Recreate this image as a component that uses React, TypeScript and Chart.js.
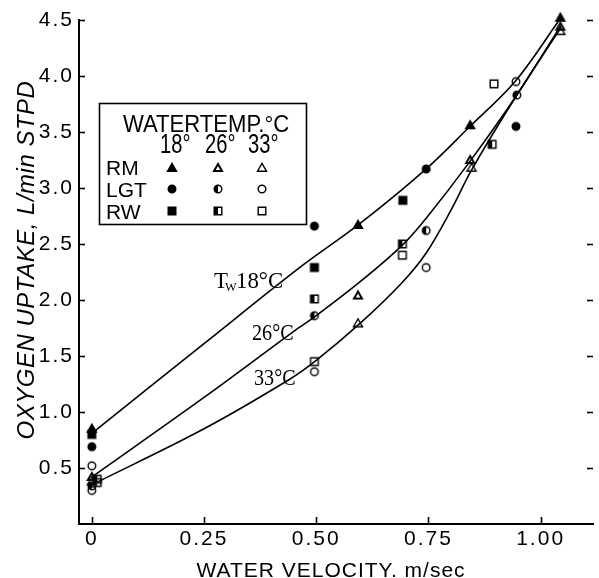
import React, { useEffect, useRef } from 'react';
import { Chart, registerables } from 'chart.js';

Chart.register(...registerables);

// ---- axis ticks ----
const xTickValues = [0, 0.25, 0.5, 0.75, 1.0];
const xTickLabels = ['0', '0.25', '0.50', '0.75', '1.00'];
const yTickValues = [0.5, 1.0, 1.5, 2.0, 2.5, 3.0, 3.5, 4.0, 4.5];
const yTickLabels = ['0.5', '1.0', '1.5', '2.0', '2.5', '3.0', '3.5', '4.0', '4.5'];

// ---- measured points (water velocity m/sec, O2 uptake L/min) ----
// 18 °C (filled)
const rm18X = [0, 0.593, 0.843, 1.044];
const rm18Y = [0.85, 2.67, 3.56, 4.52];
const lgt18X = [0, 0.496, 0.745, 0.945];
const lgt18Y = [0.69, 2.66, 3.17, 3.55];
const rw18X = [0, 0.496, 0.693];
const rw18Y = [0.80, 2.29, 2.89];
// 26 °C (half filled)
const rm26X = [0, 0.593, 0.843, 1.044];
const rm26Y = [0.42, 2.04, 3.25, 4.44];
const lgt26X = [0, 0.496, 0.745, 0.947];
const lgt26Y = [0.34, 1.86, 2.62, 3.83];
const rw26X = [0.012, 0.496, 0.692, 0.892];
const rw26Y = [0.40, 2.01, 2.50, 3.39];
// 33 °C (open)
const rm33X = [0, 0.593, 0.846, 1.044];
const rm33Y = [0.38, 1.79, 3.18, 4.40];
const lgt33X = [0, 0, 0.496, 0.745, 0.945];
const lgt33Y = [0.52, 0.30, 1.36, 2.29, 3.95];
const rw33X = [0.012, 0.496, 0.692, 0.896];
const rw33Y = [0.37, 1.45, 2.40, 3.93];

// ---- fitted curves ----
const fit18X = [0, 0.25, 0.46, 0.6, 0.745, 0.84, 0.945, 1.045];
const fit18Y = [0.81, 1.61, 2.28, 2.69, 3.17, 3.54, 3.96, 4.52];
const fit26X = [0, 0.25, 0.45, 0.5, 0.6, 0.692, 0.745, 0.843, 0.947, 1.045];
const fit26Y = [0.42, 1.13, 1.72, 1.86, 2.17, 2.49, 2.73, 3.24, 3.83, 4.45];
const fit33X = [0, 0.25, 0.44, 0.5, 0.6, 0.69, 0.745, 0.8, 0.846, 0.947, 1.045];
const fit33Y = [0.35, 0.85, 1.29, 1.46, 1.80, 2.15, 2.42, 2.80, 3.16, 3.83, 4.43];

const xMin = -0.0286;
const xMax = 1.1167;
const yMin = 0;
const yMax = 4.5;

const SANS = '"Liberation Sans", Arial, Helvetica, sans-serif';
const SERIF = '"Liberation Serif", "Times New Roman", serif';

type Shape = 'tri' | 'circ' | 'sq';
type Fill = 'full' | 'half' | 'open';

function makeMarker(shape: Shape, fill: Fill): HTMLCanvasElement {
  const s = 14;
  const c = document.createElement('canvas');
  c.width = s;
  c.height = s;
  const g = c.getContext('2d') as CanvasRenderingContext2D;
  const cx = 7;
  const cy = 7;
  const path = () => {
    g.beginPath();
    if (shape === 'tri') {
      const r = fill === 'half' ? 4.6 : 5.2;
      const cyy = cy + 0.6;
      g.moveTo(cx, cyy - r);
      g.lineTo(cx + r * 0.866, cyy + r * 0.5);
      g.lineTo(cx - r * 0.866, cyy + r * 0.5);
      g.closePath();
    } else if (shape === 'circ') {
      g.arc(cx, cy, 3.8, 0, Math.PI * 2);
    } else {
      g.rect(cx - 3.8, cy - 3.8, 7.6, 7.6);
    }
  };
  g.strokeStyle = '#000';
  g.lineWidth = fill === 'half' && shape === 'tri' ? 2 : 1.4;
  if (fill === 'full') {
    path();
    g.fillStyle = '#000';
    g.fill();
  } else if (fill === 'half' && shape !== 'tri') {
    g.save();
    path();
    g.clip();
    g.fillStyle = '#000';
    g.fillRect(0, 0, cx, s);
    g.restore();
  }
  path();
  g.stroke();
  return c;
}

function pts(xs: number[], ys: number[]) {
  return xs.map((x, i) => ({ x, y: ys[i] }));
}

export default function App() {
  const ref = useRef<HTMLCanvasElement | null>(null);

  useEffect(() => {
    const canvas = ref.current;
    if (!canvas) return;

    const m = {
      rm18: makeMarker('tri', 'full'),
      lgt18: makeMarker('circ', 'full'),
      rw18: makeMarker('sq', 'full'),
      rm26: makeMarker('tri', 'half'),
      lgt26: makeMarker('circ', 'half'),
      rw26: makeMarker('sq', 'half'),
      rm33: makeMarker('tri', 'open'),
      lgt33: makeMarker('circ', 'open'),
      rw33: makeMarker('sq', 'open'),
    };

    const markerSet = (label: string, xs: number[], ys: number[], img: HTMLCanvasElement) => ({
      type: 'scatter' as const,
      label,
      data: pts(xs, ys),
      pointStyle: img,
      pointRadius: 5,
      showLine: false,
      clip: false as const,
    });

    const curve = (label: string, xs: number[], ys: number[]) => ({
      type: 'line' as const,
      label,
      data: pts(xs, ys),
      borderColor: '#000',
      borderWidth: 1.6,
      pointRadius: 0,
      fill: false,
      tension: 0.35,
      cubicInterpolationMode: 'default' as const,
      clip: false as const,
    });

    const decor = {
      id: 'decor',
      beforeDraw(chart: any) {
        chart.ctx.letterSpacing = '2px';
      },
      beforeDatasetsDraw(chart: any) {
        chart.ctx.letterSpacing = '0px';
      },
      afterDraw(chart: any) {
        const ctx: CanvasRenderingContext2D = chart.ctx;
        const ca = chart.chartArea;
        const xs = chart.scales.x;
        const ys = chart.scales.y;
        ctx.save();
        (ctx as any).letterSpacing = '0px';
        ctx.strokeStyle = '#000';
        ctx.fillStyle = '#000';
        ctx.lineWidth = 1.6;
        const line = (a: number, b: number, c: number, d: number) => {
          ctx.beginPath();
          ctx.moveTo(a, b);
          ctx.lineTo(c, d);
          ctx.stroke();
        };
        // inward tick marks
        yTickValues.forEach((v) => {
          const py = Math.round(ys.getPixelForValue(v)) + 0.5;
          line(ca.left, py, ca.left + 6, py);
          line(ca.right - 6, py, ca.right, py);
        });
        xTickValues.forEach((v) => {
          const px = Math.round(xs.getPixelForValue(v)) + 0.5;
          line(px, ca.bottom, px, ca.bottom - 7);
        });

        // axis titles
        ctx.textBaseline = 'alphabetic';
        ctx.textAlign = 'center';
        ctx.font = `21px ${SANS}`;
        (ctx as any).letterSpacing = '1px';
        ctx.fillText('WATER VELOCITY. m/sec', 331, 577);
        (ctx as any).letterSpacing = '0px';

        ctx.save();
        ctx.translate(34, 260);
        ctx.rotate(-Math.PI / 2);
        ctx.font = `italic 24px ${SANS}`;
        (ctx as any).letterSpacing = '0.5px';
        ctx.fillText('OXYGEN UPTAKE, L/min STPD', 0, 0);
        ctx.restore();

        // curve labels
        ctx.textAlign = 'left';
        const scaled = (text: string, x: number, y: number, font: string, sx: number) => {
          ctx.save();
          ctx.translate(x, y);
          ctx.scale(sx, 1);
          ctx.font = font;
          ctx.fillText(text, 0, 0);
          ctx.restore();
        };
        scaled('T', 214, 288, `24px ${SERIF}`, 0.95);
        scaled('W', 225, 291, `13px ${SERIF}`, 0.95);
        scaled('18°C', 236, 288, `24px ${SERIF}`, 0.95);
        scaled('26°C', 252, 340, `24px ${SERIF}`, 0.84);
        scaled('33°C', 254, 385, `24px ${SERIF}`, 0.84);

        // legend box
        ctx.lineWidth = 1.6;
        ctx.fillStyle = '#fff';
        ctx.fillRect(99, 103, 207, 121);
        ctx.strokeRect(99.5, 103.5, 207, 121);
        ctx.fillStyle = '#000';
        scaled('WATERTEMP.°C', 123, 132, `24px ${SANS}`, 0.92);
        scaled('18°', 160, 153, `28px ${SANS}`, 0.72);
        scaled('26°', 205, 153, `28px ${SANS}`, 0.72);
        scaled('33°', 248, 153, `28px ${SANS}`, 0.72);
        ctx.font = `21px ${SANS}`;
        ctx.fillText('RM', 106, 175);
        ctx.fillText('LGT', 106, 197);
        ctx.fillText('RW', 106, 219);
        const cols = [172, 218, 262];
        const rows = [168, 189, 211];
        const grid = [
          [m.rm18, m.rm26, m.rm33],
          [m.lgt18, m.lgt26, m.lgt33],
          [m.rw18, m.rw26, m.rw33],
        ];
        grid.forEach((row, ri) =>
          row.forEach((img, ci) => {
            ctx.drawImage(img, cols[ci] - img.width / 2, rows[ri] - img.height / 2);
          })
        );
        ctx.restore();
      },
    };

    const chart = new Chart(canvas, {
      type: 'scatter',
      data: {
        datasets: [
          markerSet('RM 18', rm18X, rm18Y, m.rm18),
          markerSet('LGT 18', lgt18X, lgt18Y, m.lgt18),
          markerSet('RW 18', rw18X, rw18Y, m.rw18),
          markerSet('RM 26', rm26X, rm26Y, m.rm26),
          markerSet('LGT 26', lgt26X, lgt26Y, m.lgt26),
          markerSet('RW 26', rw26X, rw26Y, m.rw26),
          markerSet('RM 33', rm33X, rm33Y, m.rm33),
          markerSet('LGT 33', lgt33X, lgt33Y, m.lgt33),
          markerSet('RW 33', rw33X, rw33Y, m.rw33),
          curve('Tw 18°C', fit18X, fit18Y),
          curve('26°C', fit26X, fit26Y),
          curve('33°C', fit33X, fit33Y),
        ] as any,
      },
      options: {
        responsive: false,
        animation: false,
        devicePixelRatio: 1,
        layout: { padding: { top: 20, right: 0, left: 0, bottom: 0 } },
        plugins: {
          legend: { display: false },
          tooltip: { enabled: false },
          title: { display: false },
        },
        scales: {
          x: {
            type: 'linear',
            min: xMin,
            max: xMax,
            grid: { display: false, drawTicks: false },
            border: { display: true, color: '#000', width: 2 },
            afterBuildTicks: (scale: any) => {
              scale.ticks = xTickValues.map((v) => ({ value: v }));
            },
            afterFit: (scale: any) => {
              scale.height = 54;
            },
            ticks: {
              color: '#000',
              padding: 3,
              maxRotation: 0,
              autoSkip: false,
              font: { family: SANS, size: 21 },
              callback: (v: any) => {
                const i = xTickValues.indexOf(Number(v));
                return i >= 0 ? xTickLabels[i] : '';
              },
            },
          },
          y: {
            type: 'linear',
            min: yMin,
            max: yMax,
            grid: { display: false, drawTicks: false },
            border: { display: true, color: '#000', width: 2 },
            afterBuildTicks: (scale: any) => {
              scale.ticks = yTickValues.map((v) => ({ value: v }));
            },
            afterFit: (scale: any) => {
              scale.width = 79;
            },
            ticks: {
              color: '#000',
              padding: 5,
              autoSkip: false,
              font: { family: SANS, size: 21 },
              callback: (v: any) => {
                const i = yTickValues.indexOf(Number(v));
                return i >= 0 ? yTickLabels[i] : '';
              },
            },
          },
        },
      } as any,
      plugins: [decor],
    });

    return () => {
      chart.destroy();
    };
  }, []);

  return (
    <canvas
      ref={ref}
      width={599}
      height={578}
      style={{ position: 'absolute', left: 0, top: 0, display: 'block', background: '#fff' }}
    />
  );
}
